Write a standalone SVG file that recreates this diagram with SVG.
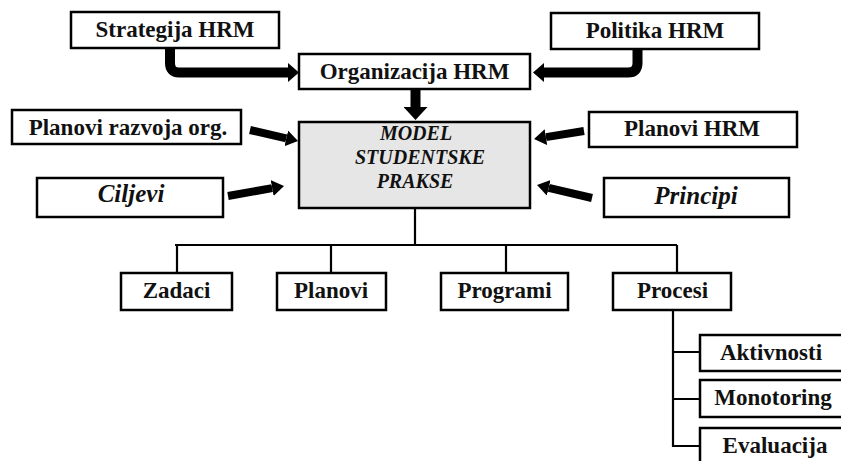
<svg xmlns="http://www.w3.org/2000/svg" width="841" height="461" viewBox="0 0 841 461">
<style>
.box{fill:#fff;stroke:#000;stroke-width:2.5}
.main{fill:#e6e6e6;stroke:#000;stroke-width:2.5}
.t{font-family:'Liberation Serif','DejaVu Serif','Times New Roman',serif;font-weight:bold;font-size:23px;text-anchor:middle;fill:#111}
.ti{font-family:'Liberation Serif','DejaVu Serif','Times New Roman',serif;font-weight:bold;font-style:italic;text-anchor:middle;fill:#111}
.thick{fill:none;stroke:#000;stroke-width:10}
.straight{fill:none;stroke:#000;stroke-width:8}
.tree{fill:none;stroke:#000;stroke-width:2.2}
</style>
<defs>
<marker id="hE" markerUnits="userSpaceOnUse" markerWidth="11" markerHeight="19" refX="0" refY="9.5" orient="auto"><path d="M0,0 L11,9.5 L0,19 z" fill="#000"/></marker>
<marker id="hS" markerUnits="userSpaceOnUse" markerWidth="12" markerHeight="16" refX="0" refY="8" orient="auto"><path d="M0,0 L12,8 L0,16 z" fill="#000"/></marker>
<marker id="hD" markerUnits="userSpaceOnUse" markerWidth="13" markerHeight="24" refX="0" refY="12" orient="auto"><path d="M0,0 L13,12 L0,24 z" fill="#000"/></marker>
</defs>
<g id="connectors">
<path class="thick" d="M170,48 V63 Q170,72.5 179,72.5 H288" marker-end="url(#hE)"/>
<path class="thick" d="M637.5,49 V63 Q637.5,72.5 628,72.5 H544" marker-end="url(#hE)"/>
<path class="thick" d="M415.5,89 V107" marker-end="url(#hD)"/>
<path class="straight" d="M250,130 L286.3,138.3" marker-end="url(#hS)"/>
<path class="straight" d="M228,196 L272.2,188.1" marker-end="url(#hS)"/>
<path class="straight" d="M584,131 L545.9,137.1" marker-end="url(#hS)"/>
<path class="straight" d="M592,198 L548.7,187.8" marker-end="url(#hS)"/>
<path class="tree" d="M415,208 V245 M175,245 H677 M177,245 V273 M331,245 V273 M506,245 V273 M677,245 V273"/>
<path class="tree" d="M673,310 V447 M673,352 H700 M673,399 H700 M673,446 H700"/>
</g>
<g id="strategija"><rect class="box" x="71" y="12" width="208" height="36"/><text class="t" x="175" y="37">Strategija HRM</text></g>
<g id="politika"><rect class="box" x="551" y="13" width="208" height="36"/><text class="t" x="655" y="38">Politika HRM</text></g>
<g id="organizacija"><rect class="box" x="299" y="54" width="231" height="35"/><text class="t" x="414.5" y="79">Organizacija HRM</text></g>
<g id="model"><rect class="main" x="299" y="122" width="231" height="86"/>
<text class="ti" font-size="20" x="416" y="140">MODEL</text>
<text class="ti" font-size="20" x="420" y="164">STUDENTSKE</text>
<text class="ti" font-size="20" x="415" y="188">PRAKSE</text></g>
<g id="planovi-razvoja"><rect class="box" x="12" y="110" width="229" height="34"/><text class="t" x="128" y="135">Planovi razvoja  org.</text></g>
<g id="ciljevi"><rect class="box" x="37" y="178" width="186" height="39"/><text class="ti" font-size="25" x="131" y="202">Ciljevi</text></g>
<g id="planovi-hrm"><rect class="box" x="589" y="112" width="208" height="35"/><text class="t" x="692" y="136">Planovi HRM</text></g>
<g id="principi"><rect class="box" x="604" y="178" width="185" height="39"/><text class="ti" font-size="25" x="696" y="204">Principi</text></g>
<g id="zadaci"><rect class="box" x="121" y="273" width="111" height="37"/><text class="t" x="176.5" y="298">Zadaci</text></g>
<g id="planovi"><rect class="box" x="277" y="273" width="109" height="37"/><text class="t" x="331" y="298">Planovi</text></g>
<g id="programi"><rect class="box" x="441" y="273" width="127" height="37"/><text class="t" x="504.5" y="298">Programi</text></g>
<g id="procesi"><rect class="box" x="613" y="273" width="118" height="37"/><text class="t" x="672.5" y="298">Procesi</text></g>
<g id="aktivnosti"><rect class="box" x="700" y="335" width="160" height="36"/><text class="t" x="771" y="360">Aktivnosti</text></g>
<g id="monotoring"><rect class="box" x="700" y="380" width="160" height="37"/><text class="t" x="773" y="405">Monotoring</text></g>
<g id="evaluacija"><rect class="box" x="700" y="428" width="160" height="50"/><text class="t" x="775" y="453">Evaluacija</text></g>
</svg>
